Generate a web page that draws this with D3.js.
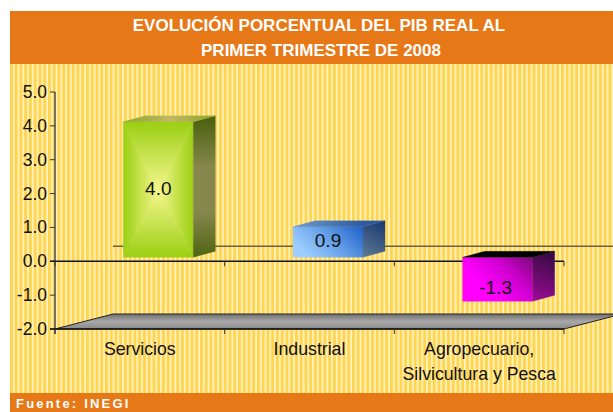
<!DOCTYPE html>
<html><head><meta charset="utf-8"><script src="https://cdn.jsdelivr.net/npm/d3@7"></script>
<style>html,body{margin:0;padding:0;background:#fff}svg{display:block}text{font-family:"Liberation Sans",Arial,sans-serif}</style>
</head><body><svg id="c" width="613" height="412"></svg>
<script>
const categories = ["Servicios", "Industrial", "Agropecuario,|Silvicultura y Pesca"];
const values = [4.0, 0.9, -1.3];
const valueLabels = ["4.0", "0.9", "-1.3"];
const yTicks = [5, 4, 3, 2, 1, 0, -1, -2];
const titleLines = ["EVOLUCIÓN PORCENTUAL DEL PIB REAL AL", "PRIMER TRIMESTRE DE 2008"];
const source = "Fuente: INEGI";

const svg = d3.select("#c");
const defs = svg.append("defs");
const W = 613, H = 412, L = 10, T = 11;
const y = d3.scaleLinear().domain([-2, 5]).range([329, 92]);
const x = d3.scaleBand().domain(categories).range([55, 564]);
const wallDx = 58, wallDy = -15, barW = 70, barShift = 18.5, barLift = -4, sideDx = 22, sideDy = -6;

const pat = defs.append("pattern").attr("id", "st").attr("patternUnits", "userSpaceOnUse").attr("width", 4.75).attr("height", 4).attr("x", L);
pat.append("rect").attr("width", 4.75).attr("height", 4).attr("fill", "#fff0bf");
pat.append("rect").attr("x", 0).attr("width", 2.9).attr("height", 4).attr("fill", "#ffd650");
svg.append("rect").attr("x", L).attr("y", T).attr("width", W - L).attr("height", H - T).attr("fill", "url(#st)");

svg.append("rect").attr("x", L).attr("y", T).attr("width", W - L).attr("height", 53).attr("fill", "#e77817");
svg.append("rect").attr("x", L).attr("y", 393).attr("width", W - L).attr("height", 19).attr("fill", "#e77817");
svg.selectAll(".tt").data(titleLines).join("text").attr("x", (d, i) => i ? 321 : 319).attr("y", (d, i) => 31 + i * 25)
  .attr("text-anchor", "middle").attr("fill", "#fff").attr("font-size", 17).attr("font-weight", "bold").text(d => d);
svg.append("text").attr("x", 16).attr("y", 408).attr("fill", "#fff").attr("font-size", 13).attr("font-weight", "bold").attr("letter-spacing", 2.2).text(source);

// floor
const fg = defs.append("linearGradient").attr("id", "floor").attr("x1", 0).attr("y1", 0).attr("x2", 0).attr("y2", 1);
fg.append("stop").attr("offset", 0).attr("stop-color", "#6f6f6f");
fg.append("stop").attr("offset", .5).attr("stop-color", "#a8a8a8");
fg.append("stop").attr("offset", 1).attr("stop-color", "#8a8a8a");
const y0 = y(-2);
svg.append("path").attr("d", d3.line()([[55, y0], [55 + wallDx, y0 + wallDy], [564 + wallDx, y0 + wallDy], [564, y0]]) + "Z")
  .attr("fill", "url(#floor)").attr("stroke", "#222").attr("stroke-width", 1);

// back zero line
svg.append("line").attr("x1", 55 + wallDx).attr("x2", W).attr("y1", y(0) + wallDy).attr("y2", y(0) + wallDy).attr("stroke", "#6b6140").attr("stroke-width", 1.5);

// axes
svg.append("line").attr("x1", 55).attr("x2", 55).attr("y1", y(5)).attr("y2", y(-2) + 5).attr("stroke", "#77705a").attr("stroke-width", 2);
svg.selectAll(".yt").data(yTicks).join("line").attr("x1", 50).attr("x2", 55).attr("y1", d => y(d)).attr("y2", d => y(d)).attr("stroke", "#333");
svg.selectAll(".yl").data(yTicks).join("text").attr("x", 47).attr("y", d => y(d) + 6).attr("text-anchor", "end")
  .attr("font-size", 17.5).attr("fill", "#111").text(d => d.toFixed(1));
const edges = [0, 1, 2, 3].map(i => 55 + i * x.step());
[0, -2].forEach(v => {
  svg.append("line").attr("x1", 50).attr("x2", 564).attr("y1", y(v)).attr("y2", y(v)).attr("stroke", "#111").attr("stroke-width", 1.4);
  svg.selectAll(null).data(edges).join("line").attr("x1", d => d).attr("x2", d => d).attr("y1", y(v)).attr("y2", y(v) + 5).attr("stroke", "#333");
});

// bars
const styles = [
 {edge: "#9bcf12", mid: "#f4f78e", sideStops: ["#4f6412", "#86874c", "#86874c", "#4f6412"], topStops: ["#8da52b", "#bfb962", "#8da52b"]},
 {front: ["#a9d4ff", "#9accff", "#5f9be6", "#1e5fc8"], span: 62, sideA: "#5f7a94", sideB: "#17376e", topA: "#6f9bd0", topB: "#2c5aa0"},
 {front: ["#ff00ff", "#ff00ff", "#d000d0", "#7a0a7a"], span: 58, sideA: "#a00a9a", sideB: "#2e0a3a", topA: "#000", topB: "#000"}
];
function lg(id, x1, y1, x2, y2, stops) {
  const g = defs.append("linearGradient").attr("id", id).attr("gradientUnits", "userSpaceOnUse")
    .attr("x1", x1).attr("y1", y1).attr("x2", x2).attr("y2", y2);
  stops.forEach((c, i) => g.append("stop").attr("offset", i / (stops.length - 1)).attr("stop-color", c));
  return `url(#${id})`;
}
function poly(g, pts, fill) { g.append("path").attr("d", d3.line()(pts) + "Z").attr("fill", fill).attr("stroke", fill).attr("stroke-width", .3); }
function pathGrad(g, id, a, b, c, d, edge, mid) {
  const m = [(a[0] + c[0]) / 2, (a[1] + c[1]) / 2];
  [[a, b], [b, c], [c, d], [d, a]].forEach((e, i) => {
    const ex = (e[0][0] + e[1][0]) / 2, ey = (e[0][1] + e[1][1]) / 2;
    poly(g, [e[0], e[1], m], lg(id + i, ex, ey, m[0], m[1], [edge, mid]));
  });
}
categories.forEach((c, i) => {
  const v = values[i], s = styles[i];
  const center = x(c) + x.bandwidth() / 2;
  const x0 = center + barShift - barW / 2, x1 = x0 + barW;
  const yt = Math.min(y(v), y(0)) + barLift, yb = Math.max(y(v), y(0)) + barLift;
  const g = svg.append("g");
  const tl = [x0, yt], tr = [x1, yt], br = [x1, yb], bl = [x0, yb];
  const tr2 = [x1 + sideDx, yt + sideDy], tl2 = [x0 + sideDx, yt + sideDy], br2 = [x1 + sideDx, yb + sideDy];
  if (i === 0) {
    pathGrad(g, "f" + i, tl, tr, br, bl, s.edge, s.mid);
    poly(g, [tr, tr2, br2, br], lg("s" + i, x1, yt, x1, yb, s.sideStops));
    poly(g, [tl, tl2, tr2, tr], lg("t" + i, x0, yt, x1 + sideDx, yt, s.topStops));
  } else {
    poly(g, [tl, tr, br, bl], lg("f" + i, x1 - s.span, yt + s.span, x1, yt, s.front));
    poly(g, [tr, tr2, br2, br], lg("s" + i, x1, yb, x1 + sideDx, yt + sideDy, [s.sideA, s.sideB]));
    poly(g, [tl, tl2, tr2, tr], lg("t" + i, x0, yt, x1, yt, [s.topA, s.topB]));
  }
  svg.append("text").attr("x", (x0 + x1) / 2 + (v < 0 ? -2 : 0)).attr("y", (yt + yb) / 2 + (v < 0 ? 15 : 5)).attr("text-anchor", "middle")
    .attr("font-size", 19).attr("fill", "#111").text(valueLabels[i]);
  c.split("|").forEach((ln, k) => svg.append("text").attr("x", center).attr("y", 355 + k * 24.5)
    .attr("text-anchor", "middle").attr("font-size", 17.7).attr("fill", "#111").text(ln));
});
</script></body></html>
